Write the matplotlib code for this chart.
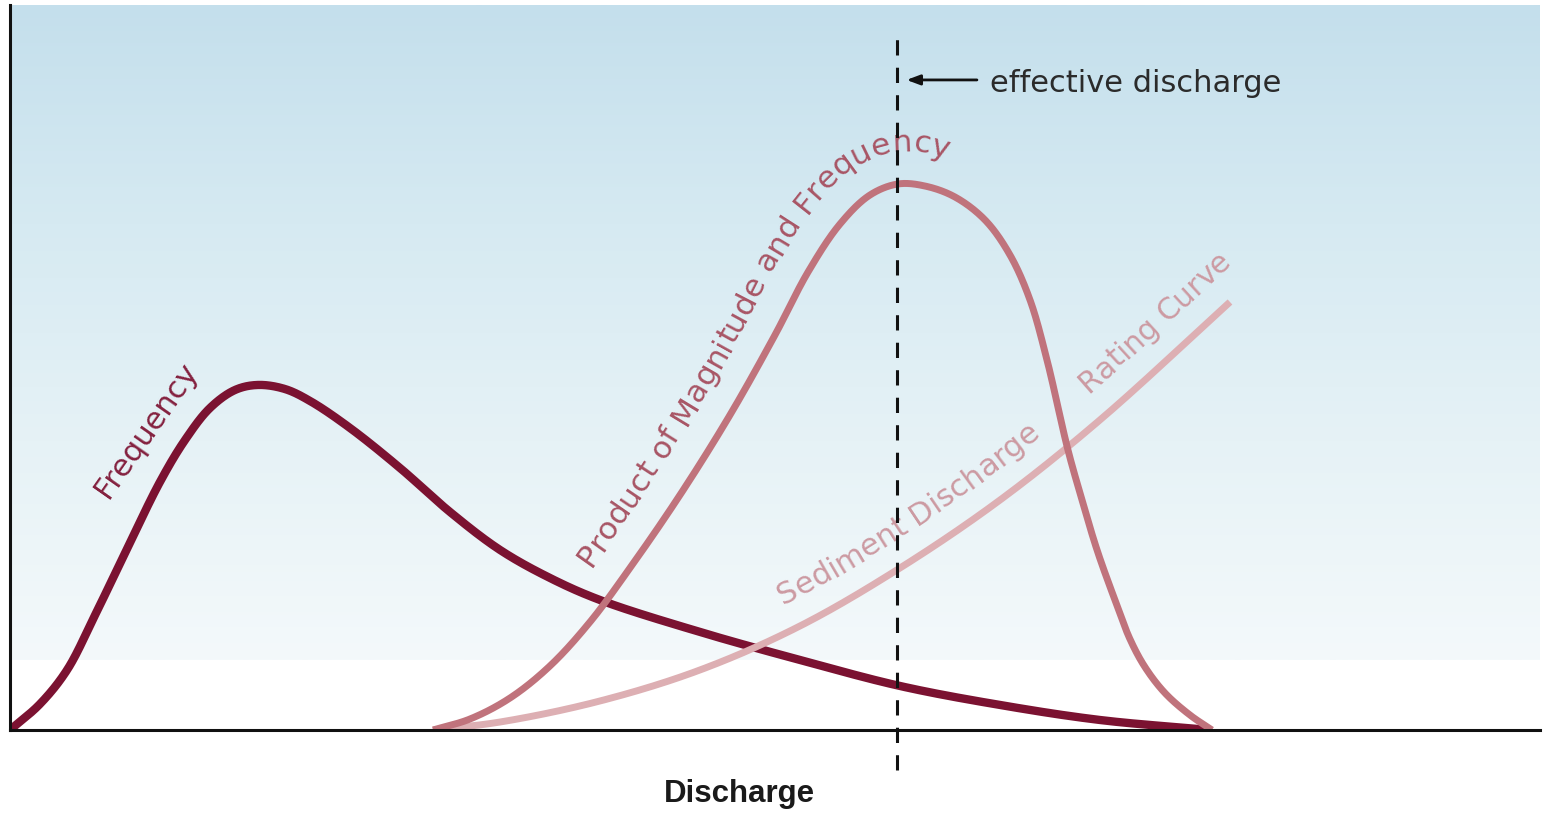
import numpy as np
import matplotlib
matplotlib.use('Agg')
import matplotlib.pyplot as plt
from matplotlib.colors import LinearSegmentedColormap
from matplotlib.font_manager import FontProperties, findfont
from matplotlib.ft2font import FT2Font

# --- values (discharge on x, 0-100 scale; y 0-100) ---
freq_x = [0.0, 1.96, 3.73, 5.56, 7.52, 9.80, 11.44, 13.07, 14.71, 16.21, 17.97,
          19.61, 22.22, 25.49, 28.76, 32.03, 35.29, 38.56, 45.10, 51.63, 58.17,
          64.71, 71.24, 78.43]
freq_y = [0.0, 3.59, 8.28, 15.86, 24.41, 34.21, 40.0, 44.41, 46.90, 47.59, 47.03,
          45.38, 41.66, 36.14, 30.07, 24.83, 20.97, 17.93, 13.52, 9.66, 6.07,
          3.45, 1.38, 0.0]

prod_x = [27.65, 30.07, 32.68, 35.29, 37.91, 40.52, 43.79, 47.06, 50.0, 52.16,
          54.25, 56.21, 58.04, 59.80, 61.76, 63.73, 65.36, 66.67, 67.78, 69.15,
          70.07, 71.05, 72.22, 73.20, 74.18, 75.49, 77.12, 78.56]
prod_y = [0.0, 1.52, 4.41, 8.83, 14.90, 22.34, 32.41, 43.45, 54.48, 63.17,
          69.79, 73.79, 75.31, 75.03, 73.52, 70.34, 65.52, 59.31, 51.03, 38.62,
          31.72, 24.83, 17.93, 12.55, 8.69, 5.10, 2.07, 0.0]

sed_x = [27.65, 32.03, 38.56, 45.10, 51.63, 58.17, 64.71, 71.24, 79.74]
sed_y = [0.0, 1.10, 4.0, 8.28, 14.34, 22.34, 31.72, 42.76, 59.03]

effective_q = 58.0

FREQ_COLOR = '#7b1231'
PROD_COLOR = '#c0737c'
SED_COLOR = '#ddafb3'


def smooth(ax, xs, ys, n=40):
    # centripetal catmull-rom through the read points (worked out in screen space),
    # only used to draw the curves smoothly
    p = ax.transData.transform(np.column_stack([xs, ys]).astype(float))
    p = np.vstack([2 * p[0] - p[1], p, 2 * p[-1] - p[-2]])
    out = []
    for i in range(1, len(p) - 2):
        p0, p1, p2, p3 = p[i - 1:i + 3]
        t0 = 0.0
        t1 = t0 + np.linalg.norm(p1 - p0) ** 0.5
        t2 = t1 + np.linalg.norm(p2 - p1) ** 0.5
        t3 = t2 + np.linalg.norm(p3 - p2) ** 0.5
        t = np.linspace(t1, t2, n, endpoint=False)[:, None]
        a1 = (t1 - t) / (t1 - t0) * p0 + (t - t0) / (t1 - t0) * p1
        a2 = (t2 - t) / (t2 - t1) * p1 + (t - t1) / (t2 - t1) * p2
        a3 = (t3 - t) / (t3 - t2) * p2 + (t - t2) / (t3 - t2) * p3
        b1 = (t2 - t) / (t2 - t0) * a1 + (t - t0) / (t2 - t0) * a2
        b2 = (t3 - t) / (t3 - t1) * a2 + (t - t1) / (t3 - t1) * a3
        out.append((t2 - t) / (t2 - t1) * b1 + (t - t1) / (t2 - t1) * b2)
    out.append(p[-2][None])
    c = ax.transData.inverted().transform(np.vstack(out))
    return c[:, 0], c[:, 1]


def text_on_curve(ax, cx, cy, text, x_start, offset, size, color):
    """Lay each character along the curve, shifted by offset pixels to its left side."""
    pts = ax.transData.transform(np.column_stack([cx, cy]))
    d = np.gradient(pts, axis=0)
    d /= np.hypot(d[:, 0], d[:, 1])[:, None]
    q = pts + offset * np.column_stack([-d[:, 1], d[:, 0]])
    # carry the path straight on past the last point so text never piles up there
    q = np.vstack([q, q[-1] + d[-1] * 300])
    s = np.concatenate([[0], np.cumsum(np.hypot(*np.diff(q, axis=0).T))])
    ang = np.degrees(np.arctan2(np.gradient(q[:, 1]), np.gradient(q[:, 0])))
    ang[-1] = ang[-2]
    s0 = s[np.searchsorted(cx, x_start)]

    font = FT2Font(findfont(FontProperties(family='DejaVu Sans')))
    font.set_size(size, ax.figure.dpi)
    adv = [font.load_char(ord(ch)).linearHoriAdvance / 65536 for ch in text]
    edges = s0 + np.concatenate([[0], np.cumsum(adv)])
    centers = (edges[:-1] + edges[1:]) / 2

    inv = ax.transData.inverted()
    for ch, sc in zip(text, centers):
        if ch == ' ':
            continue
        px, py = np.interp(sc, s, q[:, 0]), np.interp(sc, s, q[:, 1])
        x, y = inv.transform((px, py))
        ax.text(x, y, ch, rotation=np.interp(sc, s, ang), rotation_mode='anchor',
                ha='center', va='baseline', fontsize=size, color=color,
                family='DejaVu Sans', zorder=6)


fig = plt.figure(figsize=(15.49, 8.14), dpi=100)
ax = fig.add_axes([0.00646, 0.1032, 0.9877, 0.8907])
ax.set_xlim(0, 100)
ax.set_ylim(0, 100)
ax.set_xticks([])
ax.set_yticks([])
for side in ['top', 'right']:
    ax.spines[side].set_visible(False)
for side in ['left', 'bottom']:
    ax.spines[side].set_linewidth(2.2)
    ax.spines[side].set_color('#111111')
    ax.spines[side].set_zorder(7)

# sky-like background that fades to white near the axis
sky = LinearSegmentedColormap.from_list('sky', ['#f4f9fb', '#e6f2f6', '#d6eaf2', '#c4dfec'])
grad = np.linspace(0, 1, 256)[:, None]
ax.imshow(grad, extent=(0, 100, 9.66, 100), origin='lower', cmap=sky,
          aspect='auto', zorder=0)

fx, fy = smooth(ax, freq_x, freq_y)
px_, py_ = smooth(ax, prod_x, prod_y)
sx, sy = smooth(ax, sed_x, sed_y)

ax.plot(fx, fy, color=FREQ_COLOR, lw=6, solid_capstyle='butt', zorder=3)
ax.plot(sx, sy, color=SED_COLOR, lw=5, solid_capstyle='butt', zorder=4)
ax.plot(px_, py_, color=PROD_COLOR, lw=5, solid_capstyle='butt', zorder=5)

# effective discharge marker
ax.plot([effective_q, effective_q], [-5.5, 95.4], color='#111111', lw=2.2,
        linestyle=(0, (5, 4)), clip_on=False, zorder=8)
ax.annotate('', xy=(58.6, 89.66), xytext=(63.2, 89.66),
            arrowprops=dict(arrowstyle='-|>,head_length=0.8,head_width=0.3',
                            lw=2, color='#111111', shrinkA=0, shrinkB=0))
ax.text(64.05, 88.0, 'effective discharge', fontsize=22, color='#2b2b2b',
        family='DejaVu Sans', va='baseline', ha='left')

# labels
ax.text(9.35, 40.7, 'Frequency', rotation=55, rotation_mode='anchor',
        ha='center', va='baseline', fontsize=22, color='#84213f', family='DejaVu Sans')
text_on_curve(ax, px_, py_, 'Product of Magnitude and Frequency', 39.6, 32, 22.5, '#a85565')
text_on_curve(ax, sx, sy, 'Sediment Discharge', 51.2, 26, 22, '#cc9aa2')
text_on_curve(ax, sx, sy, 'Rating Curve', 71.5, 27, 21.5, '#cc9aa2')

ax.text(47.7, -9.93, 'Discharge', fontsize=22.5, fontweight='bold', color='#1a1a1a',
        family='Liberation Sans', ha='center', va='baseline', clip_on=False)

fig.savefig('out.png', dpi=100)
